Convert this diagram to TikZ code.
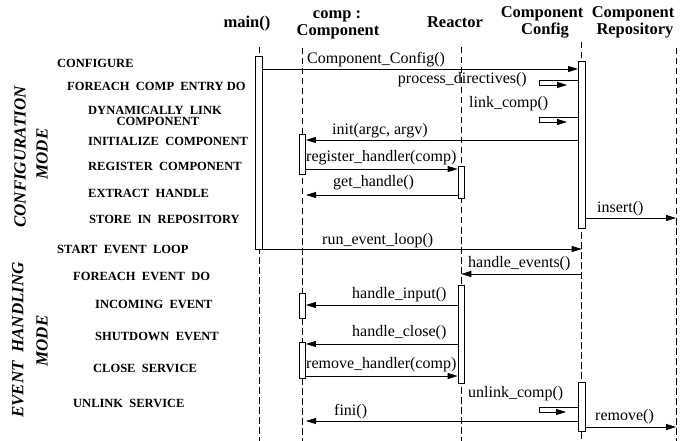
\documentclass[tikz,border=0pt]{standalone}
\usepackage{fontspec}
\setmainfont{Liberation Serif}
\usetikzlibrary{arrows.meta}

\begin{document}
\begin{tikzpicture}[x=1pt,y=-1pt,
  lifeline/.style={dash pattern=on 6.5pt off 3.5pt, line width=0.7pt},
  act/.style={draw, fill=white, line width=0.8pt, minimum width=6.5pt, inner sep=0pt},
  msg/.style={line width=0.8pt, -{Triangle[length=10pt,width=6pt]}},
  head/.style={font=\fontsize{16.5}{17}\selectfont\bfseries, inner sep=0pt, anchor=base},
  phase/.style={font=\fontsize{12.5}{14}\selectfont\bfseries, inner sep=0pt, anchor=base west},
  modelabel/.style={font=\fontsize{17}{20}\selectfont\bfseries\itshape, rotate=90, inner sep=0pt},
  call/.style={font=\fontsize{16}{18}\selectfont, inner sep=0pt, anchor=base west}
]
\useasboundingbox (0,0) rectangle (694,441);

% ---- object headers ----
\node[head] (hmain)  at (247,28) {main()};
\node[head] (hcompa) at (337,19) {comp :};
\node[head] (hcompb) at (338,36) {Component};
\node[head] (hreact) at (455,28) {Reactor};
\node[head] (hcfga)  at (542,18) {Component};
\node[head] (hcfgb)  at (545,35) {Config};
\node[head] (hrepa)  at (633,18) {Component};
\node[head] (hrepb)  at (635,35) {Repository};

% ---- lifelines ----
\coordinate (Lmain) at (259,47);
\coordinate (Lcomp) at (302,48);
\coordinate (Lre)   at (461.3,47);
\coordinate (Lcc)   at (581.7,42);
\coordinate (Lrepo) at (676,48);
\foreach \l in {Lmain,Lcomp,Lre,Lcc,Lrepo}
  \draw[lifeline] (\l) -- (\l |- 0,441);

% ---- activation boxes ----
\node[act, minimum height=193pt] (amain) at (259,152.5) {};
\node[act, minimum height=167pt] (acc1)  at (581.7,144.5) {};
\node[act, minimum height=40pt]  (acmp1) at (302.3,154) {};
\node[act, minimum height=32pt]  (are1)  at (461.3,182) {};
\node[act, minimum height=25pt]  (acmp2) at (302.3,305.5) {};
\node[act, minimum height=98pt]  (are2)  at (461.3,334) {};
\node[act, minimum height=36pt]  (acmp3) at (302.3,360) {};
\node[act, minimum height=49pt]  (acc2)  at (581.7,406.5) {};

% ---- loose ends of self calls and returns ----
\coordinate (pdA) at (539,80);  \coordinate (pdB) at (539,85);  \coordinate (pdT) at (567,85);
\coordinate (lcA) at (539,117); \coordinate (lcB) at (539,122); \coordinate (lcT) at (567,122);
\coordinate (ucA) at (539,407); \coordinate (ucB) at (539,412); \coordinate (ucT) at (566,412);
\coordinate (ghT) at (306,195);
\coordinate (fiT) at (306,421);

% ---- messages ----
\draw[msg] (amain.east |- 0,69) -- (acc1.west |- 0,69);
\draw[msg] (acc1.west |- pdA) -- (pdA) -- (pdB) -- (pdT);
\draw[msg] (acc1.west |- lcA) -- (lcA) -- (lcB) -- (lcT);
\draw[msg] (acc1.west |- 0,140) -- (acmp1.east |- 0,140);
\draw[msg] (acmp1.east |- 0,169) -- (are1.west |- 0,169);
\draw[msg] (are1.west |- ghT) -- (ghT);
\draw[msg] (acc1.east |- 0,218) -- (Lrepo |- 0,218);
\draw[msg] (amain.east |- 0,249) -- (Lcc |- 0,249);
\draw[msg] (Lcc |- 0,274) -- (Lre |- 0,274);
\draw[msg] (are2.west |- 0,305) -- (acmp2.east |- 0,305);
\draw[msg] (are2.west |- 0,344) -- (acmp3.east |- 0,344);
\draw[msg] (acmp3.east |- 0,376) -- (are2.west |- 0,376);
\draw[msg] (acc2.west |- ucA) -- (ucA) -- (ucB) -- (ucT);
\draw[msg] (acc2.west |- fiT) -- (fiT);
\draw[msg] (acc2.east |- 0,427) -- (Lrepo |- 0,427);

% ---- message labels ----
\node[call] (t1)  at (307,64)  {Component\_Config()};
\node[call, anchor=base east] (t2) at (527,84) {process\_directives()};
\node[call] (t3)  at (469,108) {link\_comp()};
\node[call] (t4)  at (332,135) {init(argc, argv)};
\node[call] (t5)  at (306,162) {register\_handler(comp)};
\node[call] (t6)  at (333,187) {get\_handle()};
\node[call] (t7)  at (597,213) {insert()};
\node[call] (t8)  at (322,244) {run\_event\_loop()};
\node[call] (t9)  at (468,267) {handle\_events()};
\node[call] (t10) at (352,298) {handle\_input()};
\node[call] (t11) at (352,336) {handle\_close()};
\node[call] (t12) at (306,368) {remove\_handler(comp)};
\node[call] (t13) at (468,397) {unlink\_comp()};
\node[call] (t14) at (334,415) {fini()};
\node[call] (t15) at (595,420) {remove()};

% ---- steps ----
\node[phase] (s1)  at (57,68)  {CONFIGURE};
\node[phase] (s2)  at (67,91)  {FOREACH\ \ COMP\ \ ENTRY DO};
\node[phase] (s3a) at (88,115) {DYNAMICALLY\ \ LINK};
\node[phase, anchor=base] (s3b) at (158,126) {COMPONENT};
\node[phase] (s4)  at (88,146) {INITIALIZE\ \ COMPONENT};
\node[phase] (s5)  at (88,171) {REGISTER\ \ COMPONENT};
\node[phase] (s6)  at (88,197) {EXTRACT\ \ HANDLE};
\node[phase] (s7)  at (89,223) {STORE\ \ IN\ \ REPOSITORY};
\node[phase] (s8)  at (57,253) {START\ \ EVENT\ \ LOOP};
\node[phase] (s9)  at (73,280) {FOREACH\ \ EVENT\ \ DO};
\node[phase] (s10) at (95,308) {INCOMING\ \ EVENT};
\node[phase] (s11) at (95,340) {SHUTDOWN\ \ EVENT};
\node[phase] (s12) at (93,372) {CLOSE\ \ SERVICE};
\node[phase] (s13) at (73,407) {UNLINK\ \ SERVICE};

% ---- modes ----
\node[modelabel] (m1a) at (20,157) {CONFIGURATION};
\node[modelabel] (m1b) at (42,154) {MODE};
\node[modelabel] (m2a) at (18,340) {EVENT\ \ HANDLING};
\node[modelabel] (m2b) at (42,341) {MODE};
\end{tikzpicture}
\end{document}
